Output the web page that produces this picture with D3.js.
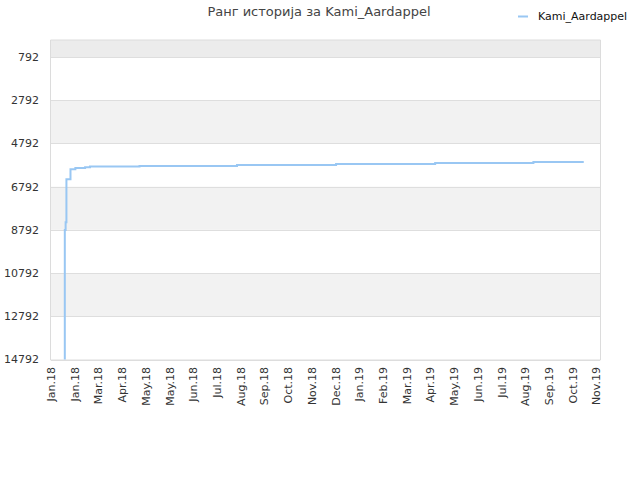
<!DOCTYPE html>
<html><head><meta charset="utf-8">
<script src="https://cdn.jsdelivr.net/npm/d3@7/dist/d3.min.js"></script>
<style>body{margin:0;background:#fff;}svg{display:block;font-family:"DejaVu Sans",sans-serif;}</style>
</head><body><svg id="c" width="640" height="480"></svg>
<script>
const title = "Ранг историја за Kami_Aardappel";
const seriesName = "Kami_Aardappel";
const dates = ["2018-01-22","2018-01-22","2018-01-23","2018-01-24","2018-01-29","2018-02-04","2018-02-16","2018-02-22","2018-04-24","2018-08-22","2018-12-22","2019-04-23","2019-08-22","2019-10-23"];
const ranks = [14792,8800,8441,6448,5984,5924,5892,5859,5831,5785,5739,5697,5651,5651];
const yTicks = [792,2792,4792,6792,8792,10792,12792,14792];
const xTickLabels = ["Jan.18","Jan.18","Mar.18","Apr.18","May.18","May.18","Jun.18","Jul.18","Aug.18","Sep.18","Oct.18","Nov.18","Dec.18","Jan.19","Feb.19","Mar.19","Apr.19","May.19","Jun.19","Jul.19","Aug.19","Sep.19","Oct.19","Nov.19"];
const xStart = "2018-01-05", xEnd = "2019-11-12", tickStepDays = 29.2;

const svg = d3.select("#c");
const L = 51, R = 600, T = 40, B = 359.5;
const parse = d3.utcParse("%Y-%m-%d");
const x = d3.scaleUtc().domain([parse(xStart), parse(xEnd)]).range([L, R]);
const y = d3.scaleLinear().domain([4, 14792]).range([T, B]);

// bands
const bandEdges = [4].concat(yTicks);
for (let i = 0; i < bandEdges.length - 1; i++) {
  const fill = i === 0 ? "#ececec" : (i % 2 === 0 ? "#f2f2f2" : "#ffffff");
  svg.append("rect").attr("x", L).attr("y", y(bandEdges[i])).attr("width", R - L)
    .attr("height", y(bandEdges[i+1]) - y(bandEdges[i])).attr("fill", fill);
}
// gridlines
svg.append("g").selectAll("line").data(yTicks).join("line")
  .attr("x1", L).attr("x2", R).attr("y1", d => Math.round(y(d)) + 0.5).attr("y2", d => Math.round(y(d)) + 0.5)
  .attr("stroke", "#dedede").attr("stroke-width", 1);
// border
svg.append("path").attr("d", `M${L-0.5},${T}V${B+0.5}H${R+0.5}V${T}H${L-0.5}`)
  .attr("fill", "none").attr("stroke", "#dcdcdc").attr("stroke-width", 1);

// y axis labels
svg.append("g").selectAll("text").data(yTicks).join("text")
  .attr("x", 39).attr("y", d => y(d)).attr("dy", "0.35em").attr("text-anchor", "end")
  .attr("font-size", 11).attr("fill", "#333").text(d => d);

// x axis labels
const t0 = parse(xStart).getTime();
const xg = svg.append("g");
xTickLabels.forEach((lab, i) => {
  const px = x(new Date(t0 + i * tickStepDays * 86400000));
  xg.append("text").attr("transform", `translate(${px + 4},367) rotate(-90)`)
    .attr("text-anchor", "end").attr("font-size", 11).attr("fill", "#333").text(lab);
});

// line
const data = dates.map((d, i) => ({d: parse(d), r: ranks[i]}));
const line = d3.line().x(p => x(p.d)).y(p => y(p.r)).curve(d3.curveStepAfter);
svg.append("path").datum(data).attr("d", line).attr("fill", "none")
  .attr("stroke", "#99c7f3").attr("stroke-width", 2);

// title
svg.append("text").attr("x", 319).attr("y", 16).attr("text-anchor", "middle")
  .attr("font-size", 13).attr("fill", "#444").text(title);
// legend
svg.append("line").attr("x1", 518).attr("x2", 528).attr("y1", 16.5).attr("y2", 16.5)
  .attr("stroke", "#99c7f3").attr("stroke-width", 2);
svg.append("text").attr("x", 538).attr("y", 16).attr("dy", "0.35em").attr("font-size", 11)
  .attr("fill", "#111").text(seriesName);
</script></body></html>
